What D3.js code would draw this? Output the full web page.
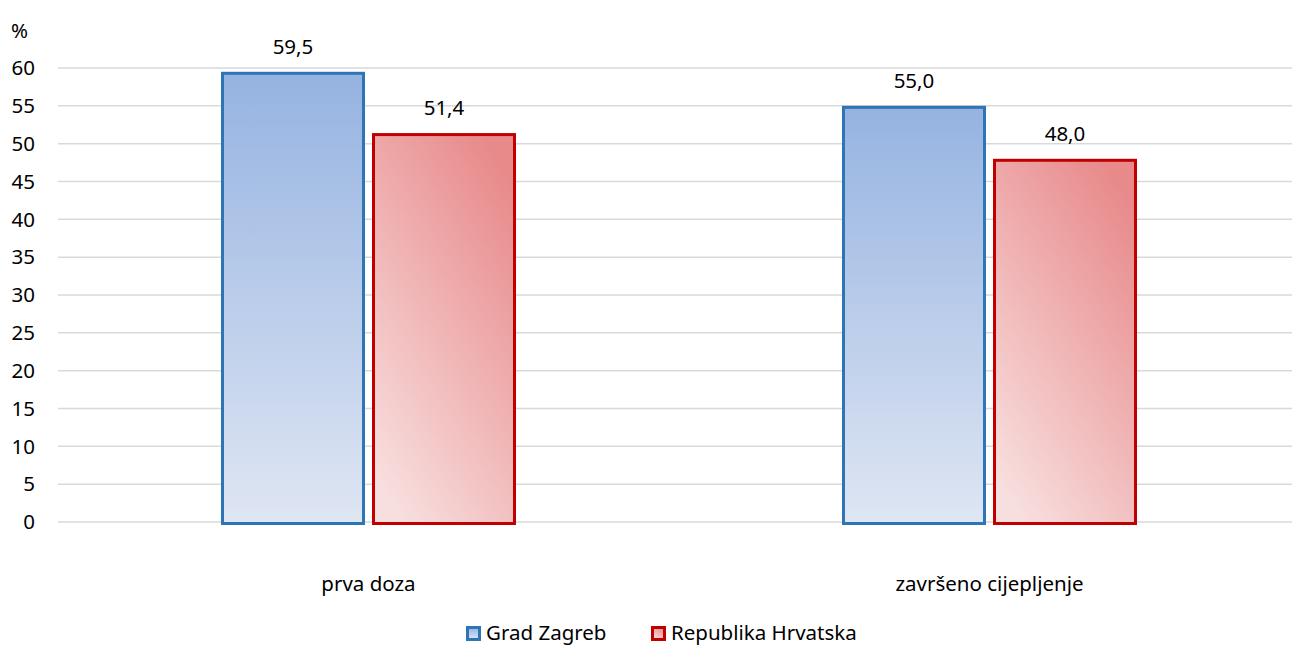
<!DOCTYPE html>
<html>
<head>
<meta charset="utf-8">
<script src="https://cdn.jsdelivr.net/npm/d3@7"></script>
<style>
  body { margin: 0; background: #fff; }
  text { font-family: "Noto Sans", "Open Sans", sans-serif; fill: #000; }
</style>
</head>
<body>
<div id="chart"></div>
<script>
// data
var categories = ["prva doza", "završeno cijepljenje"];
var seriesNames = ["Grad Zagreb", "Republika Hrvatska"];
var zagreb = [59.5, 55.0];
var hrvatska = [51.4, 48.0];
var yTicks = [0, 5, 10, 15, 20, 25, 30, 35, 40, 45, 50, 55, 60];

var W = 1292, H = 646;
var margin = {top: 68, left: 58, bottom: 124};
var fs = "20.5px";

var svg = d3.select("#chart").append("svg")
    .attr("width", W)
    .attr("height", H);

var defs = svg.append("defs");
var gBlue = defs.append("linearGradient").attr("id", "gBlue")
    .attr("x1", 0).attr("y1", 0).attr("x2", 0).attr("y2", 1);
gBlue.append("stop").attr("offset", "0%").attr("stop-color", "#95b3e1");
gBlue.append("stop").attr("offset", "100%").attr("stop-color", "#dfe6f3");
var gRed = defs.append("linearGradient").attr("id", "gRed")
    .attr("x1", 0.8).attr("y1", 0).attr("x2", 0.2).attr("y2", 1);
gRed.append("stop").attr("offset", "0%").attr("stop-color", "#e8898a");
gRed.append("stop").attr("offset", "100%").attr("stop-color", "#f8dfdf");

var y = d3.scaleLinear().domain([0, 60]).range([H - margin.bottom, margin.top]);
var x0 = d3.scaleBand().domain(categories).range([margin.left, 1300]);
var x1 = d3.scaleBand().domain(seriesNames).range([-147.5, 147.5]).paddingInner(0.0464);

// grid lines
svg.append("g").selectAll("line")
  .data(yTicks)
  .enter().append("line")
    .attr("x1", margin.left)
    .attr("x2", W)
    .attr("y1", function(d) { return y(d); })
    .attr("y2", function(d) { return y(d); })
    .attr("stroke", "#d9d9d9")
    .attr("stroke-width", 1.5);

// y axis labels
svg.append("g").selectAll("text")
  .data(yTicks)
  .enter().append("text")
    .attr("x", 35)
    .attr("y", function(d) { return y(d); })
    .attr("dy", "0.35em")
    .attr("text-anchor", "end")
    .style("font-size", fs)
    .text(function(d) { return d; });

svg.append("text")
    .attr("x", 11)
    .attr("y", 38)
    .style("font-size", fs)
    .text("%");

var series = [
  {name: seriesNames[0], values: zagreb, fill: "url(#gBlue)", stroke: "#2e75b6"},
  {name: seriesNames[1], values: hrvatska, fill: "url(#gRed)", stroke: "#c00000"}
];

var bars = [];
series.forEach(function(s) {
  s.values.forEach(function(v, i) {
    bars.push({cat: categories[i], name: s.name, value: v, fill: s.fill, stroke: s.stroke});
  });
});

function bx(d) { return x0(d.cat) + x0.bandwidth() / 2 + x1(d.name); }

svg.append("g").selectAll("rect")
  .data(bars)
  .enter().append("rect")
    .attr("x", function(d) { return bx(d) + 1.5; })
    .attr("y", function(d) { return y(d.value) + 1.5; })
    .attr("width", x1.bandwidth() - 3)
    .attr("height", function(d) { return y(0) - y(d.value); })
    .attr("fill", function(d) { return d.fill; })
    .attr("stroke", function(d) { return d.stroke; })
    .attr("stroke-width", 3);

// value labels
svg.append("g").selectAll("text")
  .data(bars)
  .enter().append("text")
    .attr("x", function(d) { return bx(d) + x1.bandwidth() / 2; })
    .attr("y", function(d) { return y(d.value) - 18; })
    .attr("text-anchor", "middle")
    .style("font-size", fs)
    .text(function(d) { return d3.format(".1f")(d.value).replace(".", ","); });

// category labels
svg.append("g").selectAll("text")
  .data(categories)
  .enter().append("text")
    .attr("x", function(d) { return x0(d) + x0.bandwidth() / 2; })
    .attr("y", 591)
    .attr("text-anchor", "middle")
    .style("font-size", fs)
    .text(function(d) { return d; });

// legend
var legendX = [466, 651];
var legend = svg.append("g").selectAll("g")
  .data(series)
  .enter().append("g")
    .attr("transform", function(d, i) { return "translate(" + legendX[i] + ",626)"; });

legend.append("rect")
    .attr("x", 1.5).attr("y", 1.5)
    .attr("width", 12).attr("height", 12)
    .attr("fill", function(d) { return d.fill; })
    .attr("stroke", function(d) { return d.stroke; })
    .attr("stroke-width", 3);

legend.append("text")
    .attr("x", 20)
    .attr("y", 14)
    .style("font-size", fs)
    .text(function(d) { return d.name; });
</script>
</body>
</html>
